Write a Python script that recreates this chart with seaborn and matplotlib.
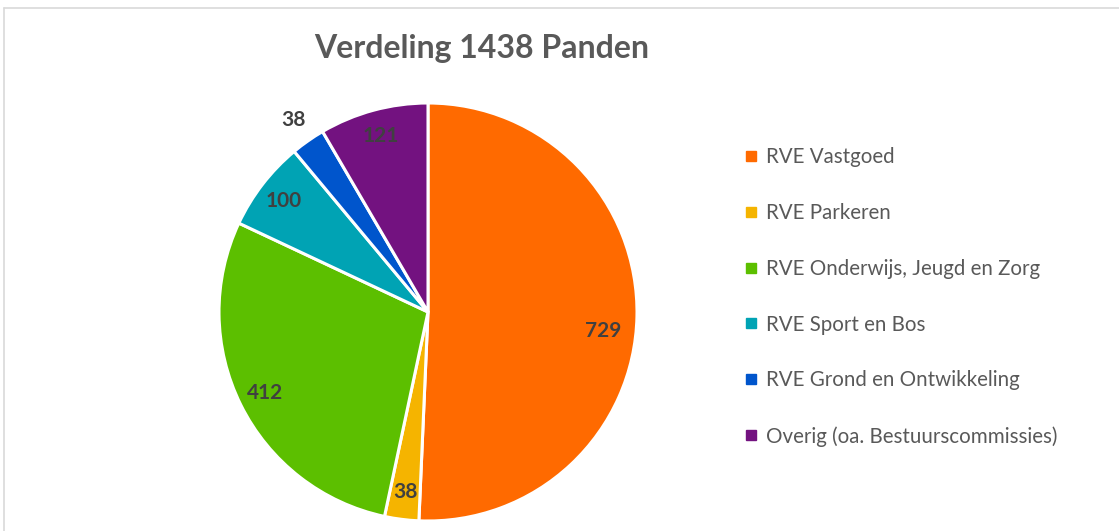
import matplotlib
matplotlib.use("Agg")
import matplotlib.pyplot as plt
import numpy as np
import seaborn as sns
from matplotlib.lines import Line2D

sns.set_theme(style="white")
plt.rcParams["font.family"] = ["Lato", "DejaVu Sans"]

categories = [
    "RVE Vastgoed",
    "RVE Parkeren",
    "RVE Onderwijs, Jeugd en Zorg",
    "RVE Sport en Bos",
    "RVE Grond en Ontwikkeling",
    "Overig (oa. Bestuurscommissies)",
]
counts = [729, 38, 412, 100, 38, 121]
colors = ["#FF6A00", "#F5B400", "#5CBF00", "#00A3B4", "#0055CC", "#731280"]

fig = plt.figure(figsize=(11.19, 5.31), dpi=100)

# light frame like the Excel chart area
fig.add_artist(Line2D([4 / 1119, 4 / 1119], [0, 1 - 8 / 531], color="#d9d9d9", lw=1.2))
fig.add_artist(Line2D([4 / 1119, 1], [1 - 8 / 531, 1 - 8 / 531], color="#d9d9d9", lw=1.2))

ax = fig.add_axes([219 / 1119, 10 / 531, 418 / 1119, 418 / 531])
wedges, _ = ax.pie(
    counts,
    colors=colors,
    startangle=90,
    counterclock=False,
    radius=1,
    wedgeprops=dict(edgecolor="white", linewidth=2.2),
)
ax.set_xlim(-1, 1)
ax.set_ylim(-1, 1)
ax.set_aspect("equal")
ax.axis("off")

# label placement: inside the slice, the small blue one outside,
# the big one nudged down a bit like Excel's best fit
for i, (w, n) in enumerate(zip(wedges, counts)):
    ang = (w.theta1 + w.theta2) / 2
    r = 0.87
    if i == 4:
        r = 1.12
    if i == 0:
        r, ang = 0.845, ang - 5
    mid = np.deg2rad(ang)
    ax.text(r * np.cos(mid), r * np.sin(mid), str(n), ha="center", va="center",
            fontsize=15, fontweight="bold", color="#404040", clip_on=False)

fig.text(482 / 1119, 1 - 48 / 531, "Verdeling 1438 Panden", ha="center", va="center",
         fontsize=23, fontweight="bold", color="#595959")

handles = [Line2D([], [], marker="s", linestyle="", markersize=7, color=c) for c in colors]
leg = fig.legend(
    handles, categories,
    loc="upper left",
    bbox_to_anchor=(737 / 1119, 1 - 139 / 531),
    frameon=False,
    fontsize=14.8,
    labelspacing=1.74,
    handlelength=0.6,
    handletextpad=0.4,
    borderaxespad=0,
)
for t in leg.get_texts():
    t.set_color("#595959")

fig.savefig("out.png", dpi=100, facecolor="white")
